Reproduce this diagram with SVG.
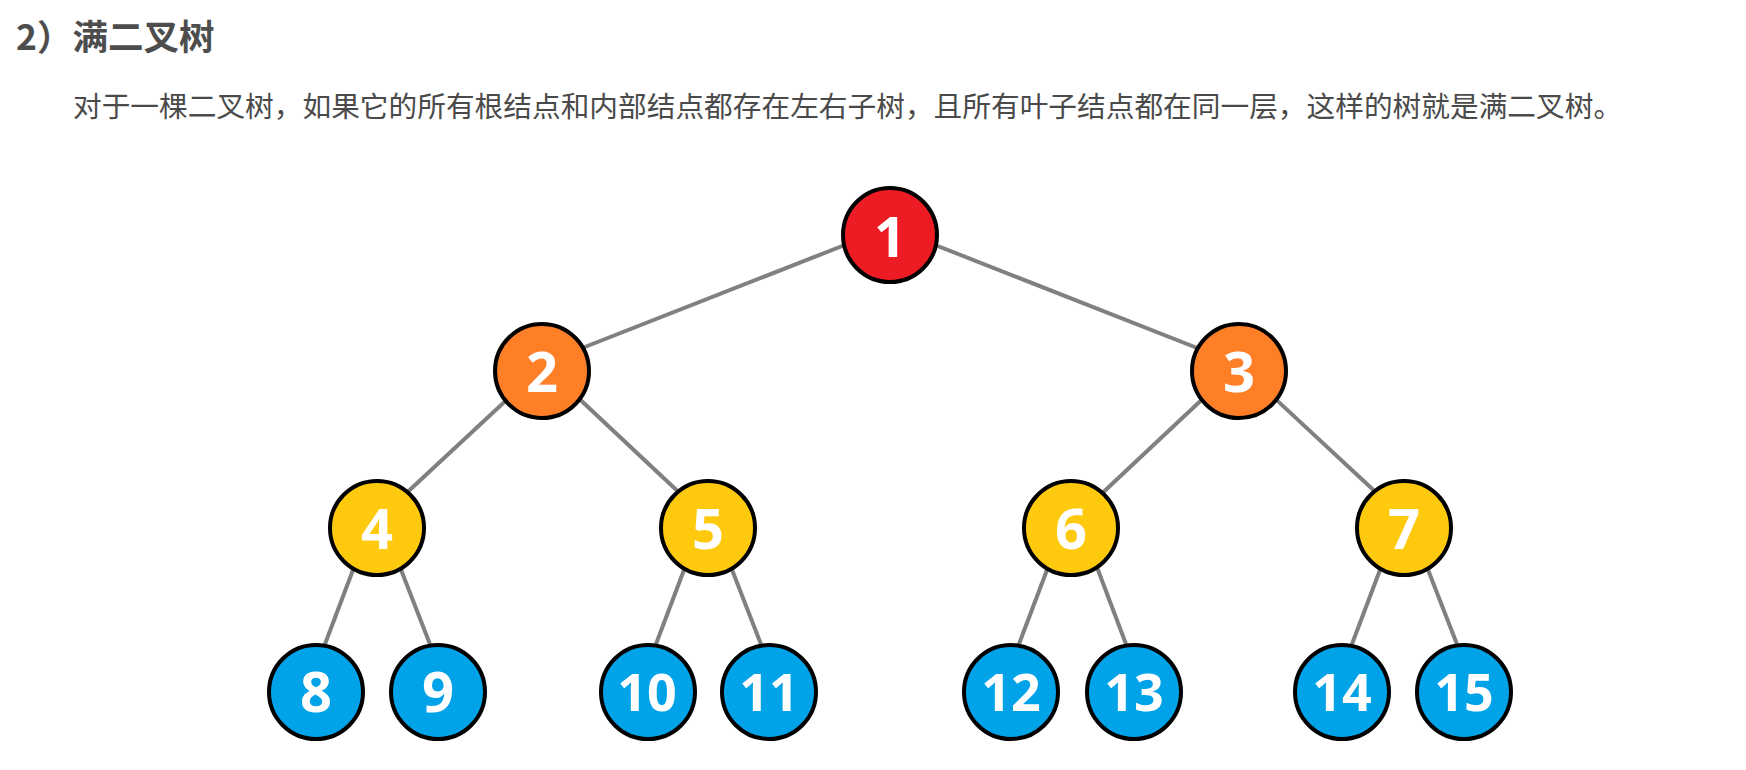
<svg xmlns="http://www.w3.org/2000/svg" width="1746" height="770" viewBox="0 0 1746 770">
<style>
.title{font-family:"Noto Sans CJK SC","Noto Sans",sans-serif;font-weight:bold;font-size:35.5px;fill:#4d4d4d}
.para{font-family:"Noto Sans CJK SC","Noto Sans",sans-serif;font-size:28.7px;fill:#4a4a4a}
.edge{stroke:#808080;stroke-width:4;fill:none;stroke-linecap:butt}
.n circle{stroke:#000;stroke-width:4}
.n text{font-family:"Open Sans","Noto Sans",sans-serif;font-weight:bold;fill:#fff;text-anchor:middle}
.s{font-size:56px}
.d{font-size:52px}
.red{fill:#ED1C24}
.org{fill:#FF7F27}
.yel{fill:#FFC90E}
.blu{fill:#00A2E8}
</style>
<rect width="1746" height="770" fill="#fff"/>
<text class="title" x="16" y="50">2）满二叉树</text>
<text class="para" x="73" y="117">对于一棵二叉树，如果它的所有根结点和内部结点都存在左右子树，且所有叶子结点都在同一层，这样的树就是满二叉树。</text>
<g id="connectors">
<line class="edge" x1="855" y1="241" x2="567" y2="354"/>
<line class="edge" x1="925" y1="241" x2="1215" y2="355"/>
<line class="edge" x1="515" y1="392" x2="400" y2="499"/>
<line class="edge" x1="572" y1="392" x2="686" y2="499"/>
<line class="edge" x1="1210" y1="392" x2="1096" y2="499"/>
<line class="edge" x1="1268" y1="392" x2="1382" y2="498"/>
<line class="edge" x1="356" y1="562" x2="322" y2="652"/>
<line class="edge" x1="398" y1="562" x2="433" y2="652"/>
<line class="edge" x1="687" y1="562" x2="653" y2="652"/>
<line class="edge" x1="729" y1="562" x2="764" y2="652"/>
<line class="edge" x1="1050" y1="562" x2="1016" y2="652"/>
<line class="edge" x1="1095" y1="562" x2="1129" y2="652"/>
<line class="edge" x1="1383" y1="562" x2="1349" y2="652"/>
<line class="edge" x1="1425" y1="562" x2="1460" y2="652"/>
</g>
<g id="node1" class="n"><circle class="red" cx="890" cy="235" r="47"/><text class="s" x="890" y="257">1</text></g>
<g id="node2" class="n"><circle class="org" cx="542" cy="371" r="47"/><text class="s" x="542" y="392">2</text></g>
<g id="node3" class="n"><circle class="org" cx="1239" cy="371" r="47"/><text class="s" x="1239" y="392">3</text></g>
<g id="node4" class="n"><circle class="yel" cx="377" cy="528" r="47"/><text class="s" x="377" y="549">4</text></g>
<g id="node5" class="n"><circle class="yel" cx="708" cy="528" r="47"/><text class="s" x="708" y="549">5</text></g>
<g id="node6" class="n"><circle class="yel" cx="1071" cy="528" r="47"/><text class="s" x="1071" y="549">6</text></g>
<g id="node7" class="n"><circle class="yel" cx="1404" cy="528" r="47"/><text class="s" x="1404" y="549">7</text></g>
<g id="node8" class="n"><circle class="blu" cx="316" cy="692" r="47"/><text class="s" x="316" y="712">8</text></g>
<g id="node9" class="n"><circle class="blu" cx="438" cy="692" r="47"/><text class="s" x="438" y="712">9</text></g>
<g id="node10" class="n"><circle class="blu" cx="648" cy="692" r="47"/><text class="d" x="647" y="711">10</text></g>
<g id="node11" class="n"><circle class="blu" cx="769" cy="692" r="47"/><text class="d" x="769" y="711">11</text></g>
<g id="node12" class="n"><circle class="blu" cx="1011" cy="692" r="47"/><text class="d" x="1011" y="711">12</text></g>
<g id="node13" class="n"><circle class="blu" cx="1134" cy="692" r="47"/><text class="d" x="1134" y="711">13</text></g>
<g id="node14" class="n"><circle class="blu" cx="1342" cy="692" r="47"/><text class="d" x="1342" y="711">14</text></g>
<g id="node15" class="n"><circle class="blu" cx="1464" cy="692" r="47"/><text class="d" x="1464" y="711">15</text></g>
</svg>
